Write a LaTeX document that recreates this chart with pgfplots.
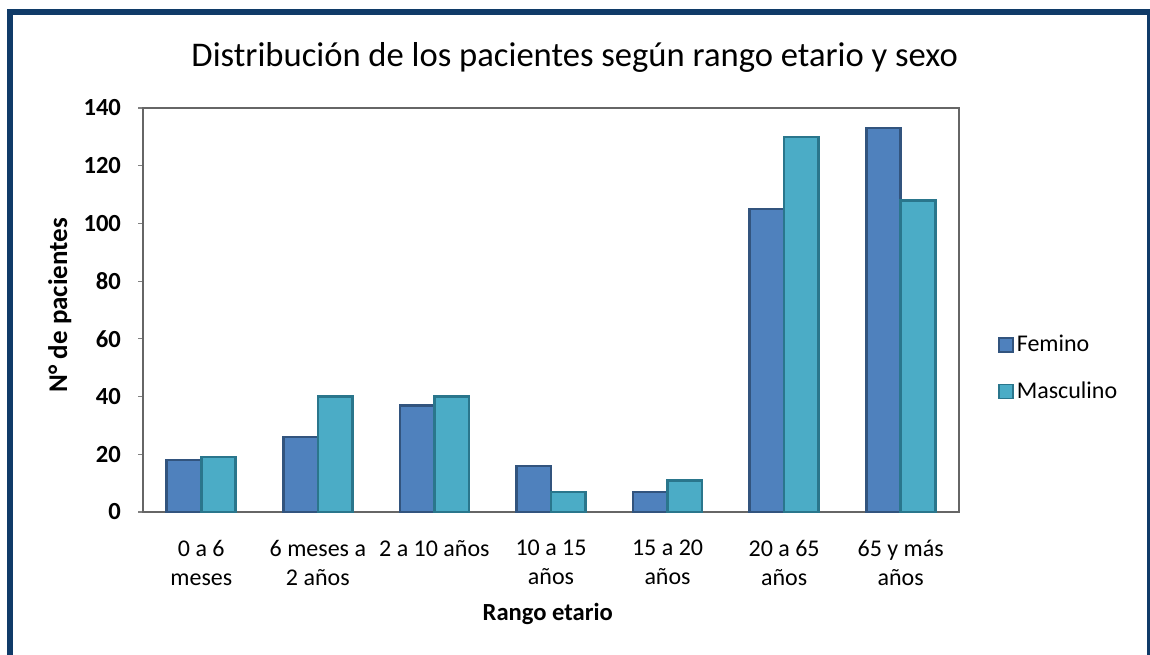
\documentclass[border=0pt]{standalone}
\usepackage{fontspec}
\setmainfont{Carlito}
\usepackage{pgfplots}
\pgfplotsset{compat=1.18}
\definecolor{fem}{RGB}{79,129,189}
\definecolor{femedge}{RGB}{50,84,126}
\definecolor{mas}{RGB}{75,172,198}
\definecolor{masedge}{RGB}{42,118,140}
\definecolor{frame}{RGB}{16,59,104}
\begin{document}
\begin{tikzpicture}
\useasboundingbox (0,0) rectangle (575pt,327pt);
\clip (0,0) rectangle (575pt,327pt);
\fill[white] (0,0) rectangle (575pt,327pt);
\draw[frame, line width=3pt] (5.15pt,-10pt) -- (5.15pt,320.85pt) -- (574.9pt,320.85pt) -- (574.9pt,-10pt);
\begin{axis}[
  at={(71.5pt,71pt)}, anchor=south west,
  width=408pt, height=202pt, scale only axis,
  ybar=0pt, bar width=0.296,
  xmin=-0.5, xmax=6.5, ymin=0, ymax=140,
  ytick={0,20,...,140},
  xtick={0,...,6},
  xticklabels={{0 a 6\\meses},{6 meses a\\2 años},{2 a 10 años},{10 a 15\\años},{15 a 20\\años},{20 a 65\\años},{65 y más\\años}},
  x tick style={draw=none},
  extra x ticks={-0.5,0.5,...,6.5},
  extra x tick labels={},
  extra x tick style={tick style={draw=black!50, line width=0.6pt}, major tick length=2.5pt},
  tick align=outside, major tick length=2.5pt,
  y tick style={draw=black!50, line width=0.6pt},
  ytick pos=left, xtick pos=bottom,
  axis line style={draw=black!60, line width=0.7pt},
  /pgf/number format/assume math mode=true,
  yticklabel style={font=\fontsize{12.3}{14}\selectfont\bfseries, xshift=-5pt},
  xticklabel style={font=\fontsize{12}{14.5}\selectfont, align=center, yshift=-8pt},
  title={Distribución de los pacientes según rango etario y sexo},
  title style={font=\fontsize{17.3}{20}\selectfont, at={(axis description cs:0.529,1.072)}, anchor=base},
  xlabel={Rango etario},
  xlabel style={font=\fontsize{12.3}{14}\selectfont\bfseries, at={(axis description cs:0.496,-0.252)}, anchor=center},
  ylabel={N° de pacientes},
  ylabel style={font=\fontsize{13.5}{15}\selectfont\bfseries, at={(axis description cs:-0.102,0.512)}, anchor=center, rotate=0},
  legend style={draw=none, fill=none, at={(axis description cs:1.0478,0.356)}, anchor=west, inner sep=0pt, row sep=10.5pt, font=\fontsize{12}{14}\selectfont, nodes={inner sep=1.5pt}},
  legend cell align=left,
  legend image code/.code={\draw[#1, line width=0.7pt] (0pt,-3.5pt) rectangle (7pt,3.5pt);},
]
\addplot[fill=fem, draw=femedge, line width=1.3pt] coordinates {(0,18) (1,26) (2,37) (3,16) (4,7) (5,105) (6,133)};
\addplot[fill=mas, draw=masedge, line width=1.3pt] coordinates {(0,19) (1,40) (2,40) (3,7) (4,11) (5,130) (6,108)};
\legend{Femino, Masculino}
\end{axis}
\end{tikzpicture}
\end{document}
